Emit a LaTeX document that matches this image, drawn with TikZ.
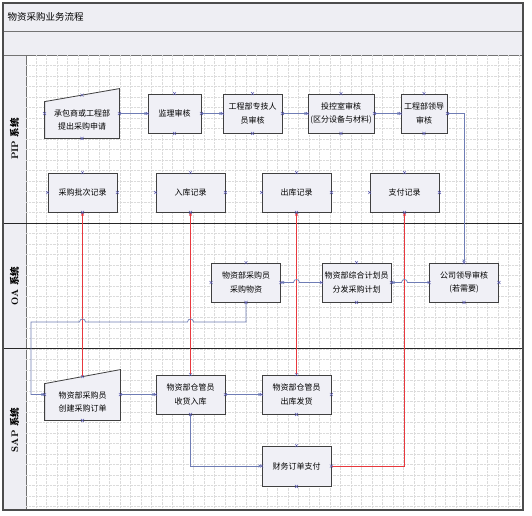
\documentclass[tikz,border=0pt]{standalone}
\usepackage{fontspec}
\newfontfamily\cjk{Noto Sans CJK SC}
\usetikzlibrary{arrows.meta, calc, backgrounds}

\definecolor{boxfill}{HTML}{F0F0F6}
\definecolor{bandfill}{HTML}{EEEEF3}
\definecolor{linkblue}{HTML}{6F7DB5}
\definecolor{recred}{HTML}{E8383D}
\definecolor{cpblue}{HTML}{5A5AB0}

\tikzset{
  box/.style={draw=black!75, fill=boxfill, line width=0.8pt, minimum width=69pt, minimum height=39pt,
    inner sep=1pt, align=center, font=\cjk\fontsize{8}{13.5}\selectfont},
  manual/.style={box, draw=none, fill=none, minimum height=36pt},
  manualshape/.style={draw=black!75, fill=boxfill, line width=0.8pt},
  lanelabel/.style={rotate=90, font=\bfseries\fontsize{9.5}{11}\selectfont},
  flow/.style={linkblue, line width=0.7pt, -{Stealth[length=3.5pt,width=3pt]}},
  rec/.style={recred, line width=1pt, -{Stealth[length=3.5pt,width=3pt]}},
  gridline/.style={gray!28, densely dotted, line width=0.4pt},
  cpmark/.style={cpblue, line width=0.5pt},
}
% Visio-style connection point
\newcommand{\cpx}[1]{\draw[cpmark] (#1) +(-1.5,-1.5) -- +(1.5,1.5) +(-1.5,1.5) -- +(1.5,-1.5);}

\begin{document}
\begin{tikzpicture}[x=1pt, y=-1pt]
\useasboundingbox (0,0) rectangle (532,515);

\begin{scope}[on background layer]
  % frame, bands and lanes
  \fill[white] (3,3) rectangle (523,510);
  \filldraw[fill=bandfill, draw=black!55] (3,3) rectangle (523,31);
  \filldraw[fill=bandfill, draw=black!55] (3,31) rectangle (523,55);
  \filldraw[fill=bandfill, draw=black!55] (3,55) rectangle (26,510);
  \foreach \gx in {36,46.5,...,520} \draw[gridline] (\gx,55) -- (\gx,510);
  \foreach \gy in {65.5,76,...,508} \draw[gridline] (26,\gy) -- (523,\gy);
  \draw[black!85, line width=0.8pt] (3,223) -- (523,223);
  \draw[black!85, line width=0.8pt] (3,348) -- (523,348);
  \draw[black!70, line width=1.2pt] (3,3) rectangle (523,510);
\end{scope}

\node[anchor=west, font=\cjk\fontsize{9.5}{11}\selectfont] (title) at (4,17) {物资采购业务流程};

\node[lanelabel] (pip) at (14.5,139) {PIP {\cjk 系统}};
\node[lanelabel] (oa) at (14.5,286) {OA {\cjk 系统}};
\node[lanelabel] (sap) at (14.5,430) {SAP {\cjk 系统}};

% PIP
\node[manual, minimum width=74pt] (req) at (82,120) {承包商或工程部\\提出采购申请};
\node[box, minimum width=53pt] (jl) at (174.5,113.5) {监理审核};
\node[box, minimum width=59pt] (zj) at (252.5,113.5) {工程部专技人\\员审核};
\node[box, minimum width=66pt] (tk) at (341,113.5) {投控室审核\\(区分设备与材料)};
\node[box, minimum width=46pt] (ld) at (424,113.5) {工程部领导\\审核};

\node[box] (r1) at (82.5,192.5) {采购批次记录};
\node[box] (r2) at (190.5,192.5) {入库记录};
\node[box] (r3) at (296.5,192.5) {出库记录};
\node[box] (r4) at (404.5,192.5) {支付记录};

% OA
\node[box] (cg) at (246,282.5) {物资部采购员\\采购物资};
\node[box] (jh) at (356.5,282.5) {物资部综合计划员\\分发采购计划};
\node[box] (gs) at (464,282.5) {公司领导审核\\(若需要)};

% SAP
\node[manual, minimum width=75pt] (po) at (82.5,402) {物资部采购员\\创建采购订单};
\node[box] (sh) at (190.5,394.5) {物资部仓管员\\收货入库};
\node[box] (ck) at (296.5,394.5) {物资部仓管员\\出库发货};
\node[box, minimum height=40pt] (zf) at (296.5,466) {财务订单支付};

\begin{scope}[on background layer]
  \filldraw[manualshape] (req.south west) -- (req.south east) -- ($(req.north east)+(0,-13)$) -- (req.north west) -- cycle;
  \filldraw[manualshape] (po.south west) -- (po.south east) -- ($(po.north east)+(0,-14)$) -- (po.north west) -- cycle;
\end{scope}

\coordinate (req-n) at ($(req.north)+(0,-6.5)$);
\coordinate (req-e) at ($(req.east)+(0,-6.5)$);
\coordinate (req-w) at ($(req.west)+(0,-6.5)$);
\coordinate (po-n) at ($(po.north)+(0,-7)$);
\coordinate (po-e) at (po.east |- sh.west);
\coordinate (po-w) at (po.west |- sh.west);
\coordinate (bend) at (31,322);

% records
\draw[rec] (po-n) -- (r1.south);
\draw[rec] (sh.north) -- (r2.south);
\draw[rec] (ck.north) -- (r3.south);
\draw[rec] (zf.east) -| (r4.south);

% connectors
\draw[flow] (req-e) -- (jl.west);
\draw[flow] (jl.east) -- (zj.west);
\draw[flow] (zj.east) -- (tk.west);
\draw[flow] (tk.east) -- (ld.west);
\draw[flow] (ld.east) -| (gs.north);
\draw[flow] (gs.west) -- ($(r4.south |- gs.west)+(3,0)$) .. controls +(0,-4) and +(0,-4) .. ($(r4.south |- gs.west)+(-3,0)$) -- (jh.east);
\draw[flow] (jh.west) -- ($(r3.south |- jh.west)+(3,0)$) .. controls +(0,-4) and +(0,-4) .. ($(r3.south |- jh.west)+(-3,0)$) -- (cg.east);
\draw[flow] (cg.south) |- ($(r2.south |- bend)+(3,0)$) .. controls +(0,-4) and +(0,-4) .. ($(r2.south |- bend)+(-3,0)$)
  -- ($(r1.south |- bend)+(3,0)$) .. controls +(0,-4) and +(0,-4) .. ($(r1.south |- bend)+(-3,0)$) -- (bend) |- (po-w);
\draw[flow] (po-e) -- (sh.west);
\draw[flow] (sh.east) -- (ck.west);
\draw[flow] (sh.south) |- (zf.west);

% connection points
\foreach \n in {jl,zj,tk,ld,r1,r2,r3,r4,cg,jh,gs,sh,ck,zf}
  \foreach \a in {north,south,east,west} {\cpx{\n.\a}}
\foreach \c in {req-n,req-e,req-w,req.south,po-n,po-e,po-w,po.south} {\cpx{\c}}
\end{tikzpicture}
\end{document}
